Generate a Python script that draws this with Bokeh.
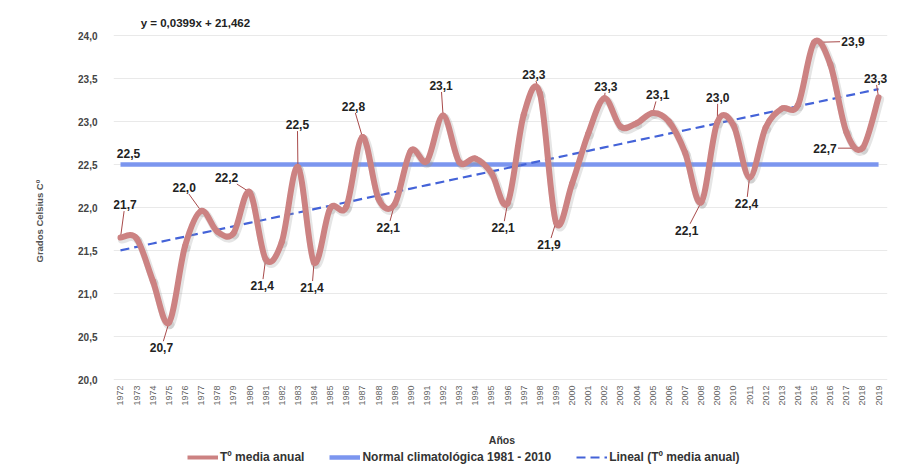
import math
from bokeh.plotting import figure
from bokeh.models import (Range1d, FixedTicker, CustomJSTickFormatter, ColumnDataSource,
                          LabelSet, Label, Legend, LegendItem, Title)
from bokeh.core.properties import value
from bokeh.embed import file_html
from bokeh.resources import INLINE

# ---------------- data ----------------
YEARS = list(range(1972, 2020))
TEMP = [21.65, 21.64, 21.15, 20.66, 21.55, 21.96, 21.72, 21.70, 22.18, 21.40,
        21.60, 22.47, 21.36, 21.99, 22.01, 22.82, 22.10, 22.04, 22.66, 22.54,
        23.07, 22.53, 22.57, 22.40, 22.05, 23.08, 23.33, 21.83, 22.28, 22.86,
        23.27, 22.94, 22.98, 23.10, 23.00, 22.64, 22.06, 22.99, 22.96, 22.35,
        22.93, 23.15, 23.19, 23.92, 23.67, 22.88, 22.69, 23.28]
YEAR_LABELS = [str(y) for y in YEARS]
NORMAL = 22.5
NORMAL_LABEL = "22,5"
TREND_SLOPE = 0.0399
TREND_INTERCEPT = 21.462
EQUATION = "y = 0,0399x + 21,462"
LABEL_YEARS = [1972, 1975, 1977, 1980, 1981, 1983, 1984, 1987, 1989, 1992, 1996,
               1998, 1999, 2002, 2005, 2008, 2009, 2011, 2015, 2018, 2019]
LABEL_TEXTS = ["21,7", "20,7", "22,0", "22,2", "21,4", "22,5", "21,4", "22,8", "22,1",
               "23,1", "22,1", "23,3", "21,9", "23,3", "23,1", "22,1", "23,0", "22,4",
               "23,9", "22,7", "23,3"]
SERIES_NAMES = ["Tº media anual", "Normal climatológica 1981 - 2010", "Lineal (Tº media anual)"]
Y_TICKS = [20.0, 20.5, 21.0, 21.5, 22.0, 22.5, 23.0, 23.5, 24.0]
X_TITLE = "Años"
Y_TITLE = "Grados Celsius Cº"

# ---------------- styling ----------------
# label offsets in screen pixels (right, down) from their data point
LABEL_OFFSETS = [(4.5, -33), (-7.5, 25), (-17, -23.5), (-23, -14.5), (-3.5, 26.5),
                 (-0.5, -42.5), (-2, 25), (-9, -30.5), (-6.5, 23.5), (-2, -30),
                 (-4.5, 24.5), (-6, -18.5), (-7, 22.5), (1.5, -12), (5, -18),
                 (-14.5, 28), (0.5, -25), (-3, 26), (39, -1), (-37.5, 0), (-3, -19)]
FONT = "Liberation Sans"
CURVE_COLOR = "#cc8282"
NORMAL_COLOR = "#7590ee"
TREND_COLOR = "#4463d8"
LEADER_COLOR = "#a84a4a"

W, H = 897, 471
FL, FR = 112, 887              # frame left / right (px)
Y_TOP_PX, Y_BOT_PX = 35, 379   # pixel rows of the 24,0 and 20,0 grid lines
X_FIRST_PX = 119
PPY = 16.15
Y0, Y1 = Y_TICKS[0], Y_TICKS[-1]
PPV = (Y_BOT_PX - Y_TOP_PX) / (Y1 - Y0)
x_start = YEARS[0] - (X_FIRST_PX - FL) / PPY
x_end = YEARS[0] + (FR - X_FIRST_PX) / PPY
y_end = Y1 + Y_TOP_PX / PPV
y_start = Y1 - (H - Y_TOP_PX) / PPV


def dx(px):
    return YEARS[0] + (px - X_FIRST_PX) / PPY


def dy(py):
    return Y1 - (py - Y_TOP_PX) / PPV


p = figure(width=W, height=H, output_backend="svg", toolbar_location=None, title=None,
           x_axis_location=None,
           x_range=Range1d(x_start, x_end), y_range=Range1d(y_start, y_end),
           min_border_left=FL, min_border_right=W - FR, min_border_top=0,
           min_border_bottom=0)
p.outline_line_color = None
p.background_fill_color = "white"
p.border_fill_color = "white"

p.xgrid.grid_line_color = None
p.ygrid.grid_line_color = "#e9e9e9"
p.ygrid.grid_line_width = 1

p.yaxis.ticker = FixedTicker(ticks=Y_TICKS)
p.yaxis.formatter = CustomJSTickFormatter(code="return tick.toFixed(1).replace('.', ',');")
p.yaxis.axis_line_color = None
p.yaxis.major_tick_line_color = None
p.yaxis.minor_tick_line_color = None
p.yaxis.major_label_standoff = 10
p.yaxis.major_label_text_font = FONT
p.yaxis.major_label_text_font_size = "10px"
p.yaxis.major_label_text_font_style = "bold"
p.yaxis.major_label_text_color = "#444444"

# y-axis title as a left-side title, its lower end placed by offset from the bottom
ytitle = Title(text=Y_TITLE, align="left", offset=209, standoff=62,
               text_font=FONT, text_font_size="9.5px", text_font_style="bold",
               text_color="#555555")
p.add_layout(ytitle, "left")

# normal line
normal_vals = [NORMAL] * len(YEARS)
r_normal = p.line(YEARS, normal_vals, line_color=NORMAL_COLOR, line_width=4.5, line_alpha=0.95)

# trend line from the chart's equation
trend_vals = [TREND_INTERCEPT + TREND_SLOPE * (i + 1) for i in range(len(YEARS))]
r_trend = p.line(YEARS, trend_vals, line_color=TREND_COLOR, line_width=2.2, line_dash="9 5")

# smoothed curve via cubic Bezier segments (Catmull-Rom control points)
n = len(YEARS)
x0, y0, x1, y1, cx0, cy0, cx1, cy1 = [], [], [], [], [], [], [], []
for i in range(n - 1):
    pa = i - 1 if i > 0 else i
    pd = i + 2 if i + 2 < n else i + 1
    x0.append(YEARS[i]); y0.append(TEMP[i])
    x1.append(YEARS[i + 1]); y1.append(TEMP[i + 1])
    cx0.append(YEARS[i] + (YEARS[i + 1] - YEARS[pa]) / 6)
    cy0.append(TEMP[i] + (TEMP[i + 1] - TEMP[pa]) / 6)
    cx1.append(YEARS[i + 1] - (YEARS[pd] - YEARS[i]) / 6)
    cy1.append(TEMP[i + 1] - (TEMP[pd] - TEMP[i]) / 6)

sx, sy = 1.5 / PPY, -2.0 / PPV
p.bezier([v + sx for v in x0], [v + sy for v in y0], [v + sx for v in x1], [v + sy for v in y1],
         [v + sx for v in cx0], [v + sy for v in cy0], [v + sx for v in cx1], [v + sy for v in cy1],
         line_color="#999999", line_alpha=0.25, line_width=8, line_cap="round")

# leader lines
lx0, ly0, lx1, ly1, tx, ty = [], [], [], [], [], []
for yr, (ox, oy) in zip(LABEL_YEARS, LABEL_OFFSETS):
    val = TEMP[YEARS.index(yr)]
    tx.append(yr + ox / PPY)
    ty.append(val - oy / PPV)
    hw, hh = 13.0, 6.5
    t = min(hw / abs(ox) if ox else 1e9, hh / abs(oy) if oy else 1e9)
    if t < 1:
        ex, ey = ox * (1 - t), oy * (1 - t)
        lx0.append(yr); ly0.append(val)
        lx1.append(yr + ex / PPY); ly1.append(val - ey / PPV)
p.segment(lx0, ly0, lx1, ly1, line_color=LEADER_COLOR, line_width=1)

p.bezier(x0, y0, x1, y1, cx0, cy0, cx1, cy1, line_color=CURVE_COLOR, line_width=6,
         line_cap="round")

# legend proxy for the curve (no visible data)
r_curve = p.line(x=[float("nan")], y=[float("nan")], line_color=CURVE_COLOR, line_width=4)

# data labels
src = ColumnDataSource(dict(x=tx, y=ty, text=LABEL_TEXTS))
p.add_layout(LabelSet(x="x", y="y", text="text", source=src, text_align="center",
                      text_baseline="middle", text_font=value(FONT),
                      text_font_size=value("12px"), text_font_style="bold",
                      text_color="#222222"))

# year tick labels (vertical, reading upwards) just below the 20,0 line
ysrc = ColumnDataSource(dict(x=YEARS, y=[dy(385)] * len(YEARS), text=YEAR_LABELS))
p.add_layout(LabelSet(x="x", y="y", text="text", source=ysrc, angle=math.pi / 2,
                      text_align="right", text_baseline="middle", text_font=value(FONT),
                      text_font_size=value("9px"), text_color="#666666"))

p.add_layout(Label(x=dx(127), y=dy(153), text=NORMAL_LABEL, text_align="center",
                   text_baseline="middle", text_font=FONT, text_font_size="12px",
                   text_font_style="bold", text_color="#222222"))
p.add_layout(Label(x=dx(194), y=dy(22), text=EQUATION, text_align="center",
                   text_baseline="middle", text_font=FONT, text_font_size="11.5px",
                   text_font_style="bold", text_color="#222222"))
p.add_layout(Label(x=dx(501), y=dy(439), text=X_TITLE, text_align="center",
                   text_baseline="middle", text_font=FONT, text_font_size="10.5px",
                   text_font_style="bold", text_color="#333333"))

legend = Legend(items=[LegendItem(label=SERIES_NAMES[0], renderers=[r_curve]),
                       LegendItem(label=SERIES_NAMES[1], renderers=[r_normal]),
                       LegendItem(label=SERIES_NAMES[2], renderers=[r_trend])],
                location=(74, 7), orientation="horizontal",
                background_fill_alpha=0, border_line_color=None,
                padding=0, margin=0, spacing=25, glyph_width=31, glyph_height=12,
                label_standoff=2, label_height=12, label_text_font=FONT,
                label_text_font_size="12px", label_text_font_style="bold",
                label_text_color="#333333")
p.add_layout(legend)

open("out.html", "w").write(file_html(p, INLINE))
